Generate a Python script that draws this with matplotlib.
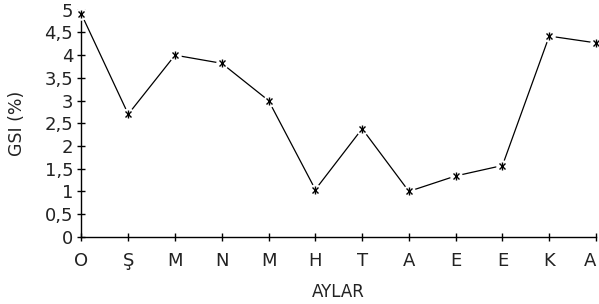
import matplotlib
matplotlib.use('Agg')
import matplotlib.pyplot as plt
import matplotlib.transforms as mtransforms
from matplotlib.ticker import FuncFormatter

months = ['O', 'Ş', 'M', 'N', 'M', 'H', 'T', 'A', 'E', 'E', 'K', 'A']
gsi = [4.9, 2.7, 4.0, 3.82, 3.0, 1.04, 2.38, 1.0, 1.34, 1.57, 4.42, 4.27]

fig = plt.figure(figsize=(5.99, 3.04), dpi=100)
ax = fig.add_axes([0.136, 0.221, 0.859, 0.747])
x = list(range(len(months)))

ax.plot(x, gsi, color='black', lw=0.9, zorder=2)
# white halo so the line stops short of the markers
ax.plot(x, gsi, ls='none', marker='o', ms=9, mfc='white', mec='none', zorder=3, clip_on=False)
ax.plot(x, gsi, ls='none', marker='x', ms=5, mec='black', mew=1, zorder=4, clip_on=False)
ax.plot(x, gsi, ls='none', marker='|', ms=6, mec='black', mew=1, zorder=4, clip_on=False)

ax.set_xlim(0, 11)
ax.set_ylim(0, 5)
ax.set_xticks(x)
ax.set_xticklabels(months)
ax.set_yticks([i * 0.5 for i in range(11)])
ax.yaxis.set_major_formatter(FuncFormatter(lambda v, p: ('%g' % v).replace('.', ',')))

for s in ['top', 'right']:
    ax.spines[s].set_visible(False)
for s in ['left', 'bottom']:
    ax.spines[s].set_linewidth(1)
ax.tick_params(direction='inout', length=6, width=1, labelsize=13, pad=3,
               labelcolor='#222222')
ax.tick_params(axis='x', pad=8)

# last label pushed left a little so it fits in the figure
last = ax.get_xticklabels()[-1]
last.set_transform(last.get_transform() +
                   mtransforms.ScaledTranslation(-0.06, 0, fig.dpi_scale_trans))

ax.set_xlabel('AYLAR', fontsize=12, labelpad=9, color='#222222')
ax.set_ylabel('GSI (%)', fontsize=12.5, labelpad=13, color='#222222')

fig.savefig('out.png', dpi=100)
